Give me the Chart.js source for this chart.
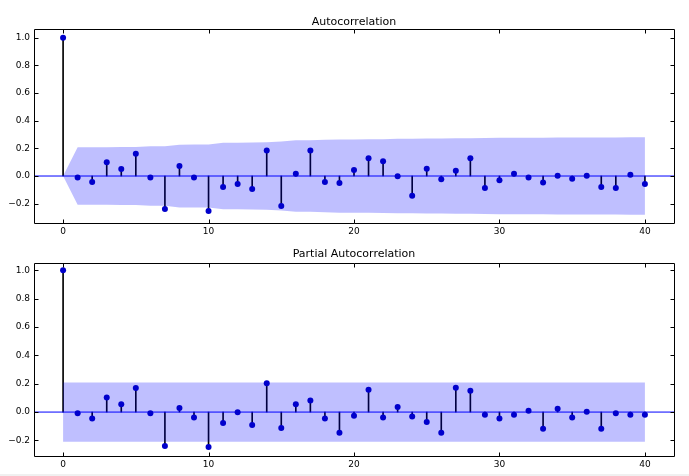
<!DOCTYPE html>
<html>
<head>
<meta charset="utf-8">
<script src="https://cdn.jsdelivr.net/npm/chart.js@4.4.1/dist/chart.umd.min.js"></script>
<style>
  html, body { margin: 0; padding: 0; background: #f0f0f0; }
  #wrap { width: 689px; height: 474px; background: #fff; }
  canvas { display: block; }
</style>
</head>
<body>
<div id="wrap">
  <canvas id="acf" width="689" height="240"></canvas>
  <canvas id="pacf" width="689" height="234"></canvas>
</div>
<script>
const lags = [0, 1, 2, 3, 4, 5, 6, 7, 8, 9, 10, 11, 12, 13, 14, 15, 16, 17, 18, 19, 20,
  21, 22, 23, 24, 25, 26, 27, 28, 29, 30, 31, 32, 33, 34, 35, 36, 37, 38, 39, 40];

const acfValues = [1.0, -0.01, -0.043, 0.099, 0.051, 0.162, -0.01, -0.239, 0.072, -0.01, -0.254,
  -0.08, -0.058, -0.094, 0.184, -0.217, 0.017, 0.184, -0.043, -0.051, 0.043,
  0.128, 0.106, -0.002, -0.143, 0.053, -0.024, 0.039, 0.128, -0.087, -0.031,
  0.017, -0.01, -0.046, 0.002, -0.019, 0.002, -0.08, -0.087, 0.01, -0.058];

// half width of the confidence band around zero
const acfBand = [0, 0.208, 0.208, 0.208, 0.21, 0.21, 0.216, 0.216, 0.227, 0.228, 0.228,
  0.24, 0.241, 0.242, 0.244, 0.25, 0.258, 0.258, 0.263, 0.265, 0.265,
  0.266, 0.267, 0.269, 0.269, 0.272, 0.272, 0.273, 0.273, 0.275, 0.277,
  0.277, 0.277, 0.277, 0.278, 0.278, 0.278, 0.278, 0.279, 0.28, 0.28];

const pacfValues = [1.0, -0.009, -0.045, 0.103, 0.056, 0.169, -0.009, -0.239, 0.028, -0.038, -0.246,
  -0.077, -0.002, -0.092, 0.204, -0.113, 0.056, 0.082, -0.045, -0.146, -0.026,
  0.157, -0.038, 0.035, -0.031, -0.07, -0.146, 0.171, 0.15, -0.019, -0.045,
  -0.019, 0.009, -0.117, 0.023, -0.038, 0.002, -0.117, -0.009, -0.019, -0.019];

const pacfBand = [0.209, 0.209, 0.209, 0.209, 0.209, 0.209, 0.209, 0.209, 0.209, 0.209, 0.209,
  0.209, 0.209, 0.209, 0.209, 0.209, 0.209, 0.209, 0.209, 0.209, 0.209,
  0.209, 0.209, 0.209, 0.209, 0.209, 0.209, 0.209, 0.209, 0.209, 0.209,
  0.209, 0.209, 0.209, 0.209, 0.209, 0.209, 0.209, 0.209, 0.209, 0.209];

const xTicks = [0, 10, 20, 30, 40];
const yTicks = [-0.2, 0.0, 0.2, 0.4, 0.6, 0.8, 1.0];

const font = "'DejaVu Sans', sans-serif";

// black frame with inward ticks on all four sides and the title over the plot
const framePlugin = {
  id: "acfFrame",
  afterDatasetsDraw(chart, args, opts) {
    const { ctx, chartArea: a, scales } = chart;
    const l = Math.round(a.left) + 0.5;
    const r = Math.round(a.right) + 0.5;
    const t = Math.round(a.top) + 0.5;
    const b = Math.round(a.bottom) + 0.5;
    ctx.save();
    ctx.strokeStyle = "#000";
    ctx.lineWidth = 1;
    ctx.beginPath();
    ctx.moveTo(l, t); ctx.lineTo(r, t); ctx.lineTo(r, b); ctx.lineTo(l, b); ctx.closePath();
    xTicks.forEach((v) => {
      const px = Math.round(scales.x.getPixelForValue(v)) + 0.5;
      ctx.moveTo(px, b); ctx.lineTo(px, b - 4);
      ctx.moveTo(px, t); ctx.lineTo(px, t + 4);
    });
    yTicks.forEach((v) => {
      const py = Math.round(scales.y.getPixelForValue(v)) + 0.5;
      ctx.moveTo(l, py); ctx.lineTo(l + 4, py);
      ctx.moveTo(r, py); ctx.lineTo(r - 4, py);
    });
    ctx.stroke();
    ctx.fillStyle = "#000";
    ctx.font = "11px " + font;
    ctx.textAlign = "center";
    ctx.textBaseline = "alphabetic";
    ctx.fillText(opts.text, (a.left + a.right) / 2, a.top - opts.gap);
    ctx.restore();
  },
};

function makeChart(id, title, values, band, yMin, yMax, top, axisHeight, titleGap) {
  const canvas = document.getElementById(id);
  return new Chart(canvas.getContext("2d"), {
    type: "scatter",
    data: {
      datasets: [
        {
          type: "bar",
          data: lags.map((l, i) => ({ x: l, y: [0, values[i]] })),
          backgroundColor: "#000",
          barThickness: 1,
          grouped: false,
          order: 4,
        },
        {
          type: "line",
          data: lags.map((l, i) => ({ x: l, y: band[i] })),
          borderWidth: 0,
          pointRadius: 0,
          fill: false,
          order: 3,
        },
        {
          type: "line",
          data: lags.map((l, i) => ({ x: l, y: -band[i] })),
          borderWidth: 0,
          pointRadius: 0,
          backgroundColor: "rgba(0, 0, 255, 0.25)",
          fill: "-1",
          order: 3,
        },
        {
          type: "line",
          data: [{ x: -2, y: 0 }, { x: 42, y: 0 }],
          borderColor: "#0000ff",
          borderWidth: 1,
          pointRadius: 0,
          order: 2,
        },
        {
          data: lags.map((l, i) => ({ x: l, y: values[i] })),
          backgroundColor: "#0000cc",
          borderColor: "#0000cc",
          pointRadius: 3,
          borderWidth: 0,
          order: 1,
        },
      ],
    },
    options: {
      responsive: false,
      animation: false,
      devicePixelRatio: 1,
      layout: { padding: { left: 0, right: 15, top: top, bottom: 0 } },
      plugins: {
        legend: { display: false },
        tooltip: { enabled: false },
        title: { display: false },
        acfFrame: { text: title, gap: titleGap },
      },
      scales: {
        x: {
          type: "linear",
          min: -2,
          max: 42,
          offset: false,
          grid: { display: false, drawTicks: false },
          border: { display: false },
          afterBuildTicks: (s) => { s.ticks = xTicks.map((v) => ({ value: v })); },
          afterFit: (s) => { s.height = axisHeight; },
          ticks: { color: "#000", font: { family: font, size: 9 }, padding: 3 },
        },
        y: {
          min: yMin,
          max: yMax,
          grid: { display: false, drawTicks: false },
          border: { display: false },
          afterBuildTicks: (s) => { s.ticks = yTicks.map((v) => ({ value: v })); },
          afterFit: (s) => { s.width = 34; },
          ticks: {
            color: "#000",
            font: { family: font, size: 9 },
            padding: 4,
            callback: (v) => v.toFixed(1).replace("-", "\u2212"),
          },
        },
      },
    },
    plugins: [framePlugin],
  });
}

makeChart("acf", "Autocorrelation", acfValues, acfBand, -0.34, 1.064, 29, 17, 4.5);
makeChart("pacf", "Partial Autocorrelation", pacfValues, pacfBand, -0.31, 1.052, 23, 18, 6.3);
</script>
</body>
</html>
